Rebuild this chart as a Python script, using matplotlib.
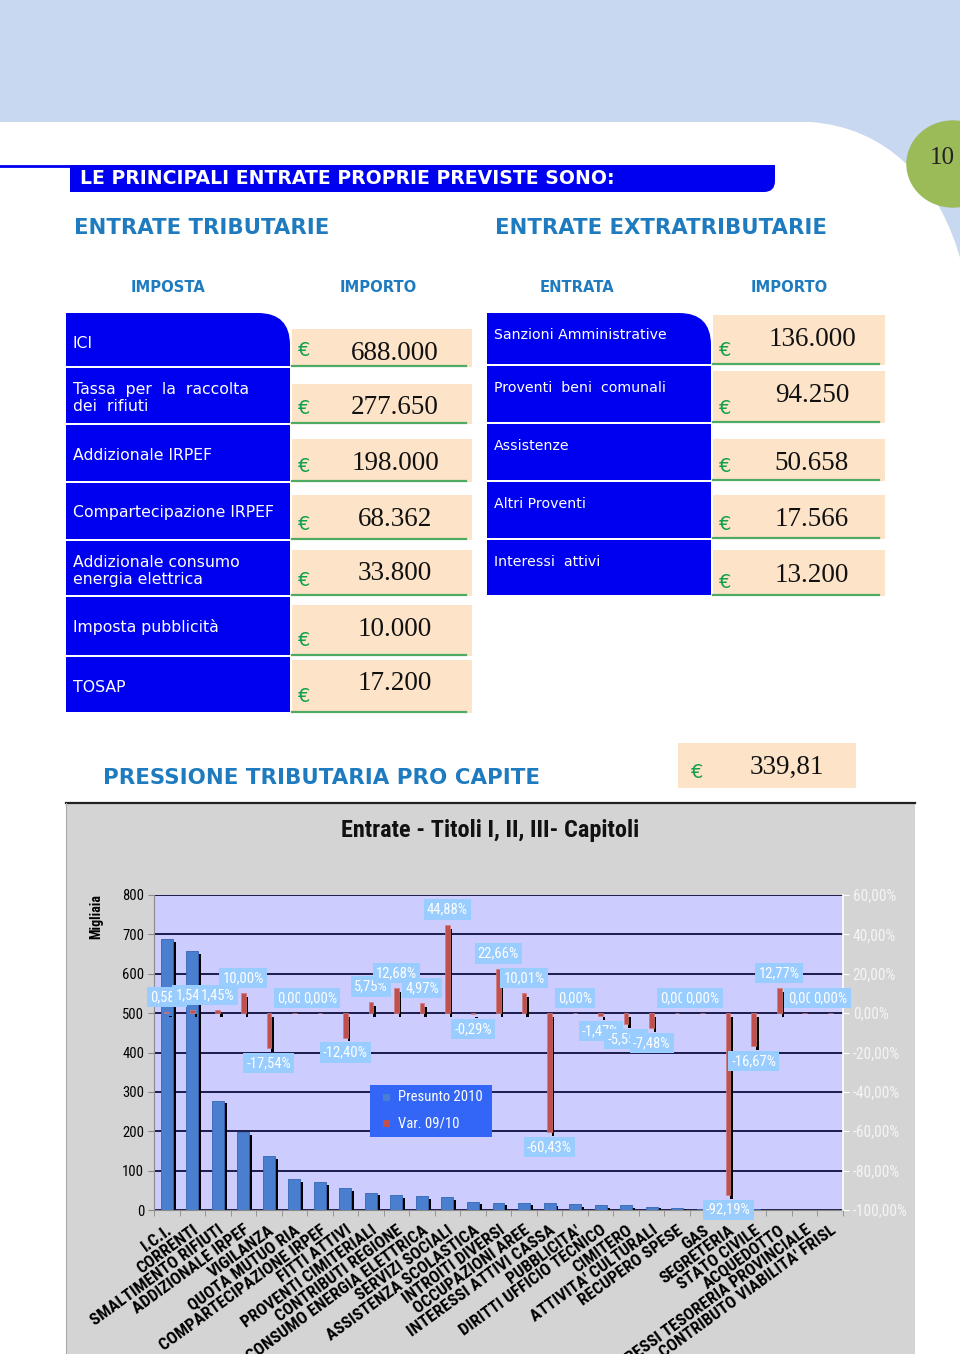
import matplotlib
matplotlib.use("Agg")
import matplotlib.pyplot as plt
from matplotlib.patches import Rectangle, Ellipse, PathPatch
from matplotlib.path import Path
from matplotlib.transforms import ScaledTranslation
from matplotlib import font_manager
import numpy as np

W, H = 960, 1354

# --- tables
imposte = ["ICI", "Tassa  per  la  raccolta\ndei  rifiuti", "Addizionale IRPEF",
           "Compartecipazione IRPEF", "Addizionale consumo\nenergia elettrica",
           "Imposta pubblicità", "TOSAP"]
importi_trib = ["688.000", "277.650", "198.000", "68.362", "33.800", "10.000", "17.200"]
entrate = ["Sanzioni Amministrative", "Proventi  beni  comunali", "Assistenze",
           "Altri Proventi", "Interessi  attivi"]
importi_extra = ["136.000", "94.250", "50.658", "17.566", "13.200"]
pro_capite = "339,81"

# --- chart (Presunto 2010 in migliaia, Var. 09/10 in %)
categorie = ["I.C.I.", "CORRENTI", "SMALTIMENTO RIFIUTI", "ADDIZIONALE IRPEF", "VIGILANZA",
             "QUOTA MUTUO RIA", "COMPARTECIPAZIONE IRPEF", "FITTI ATTIVI",
             "PROVENTI CIMITERIALI", "CONTRIBUTI REGIONE", "CONSUMO ENERGIA ELETTRICA",
             "SERVIZI SOCIALI", "ASSISTENZA SCOLASTICA", "INTROITI DIVERSI",
             "OCCUPAZIONI AREE", "INTERESSI ATTIVI CASSA", "PUBBLICITA'",
             "DIRITTI UFFICIO TECNICO", "CIMITERO", "ATTIVITA' CULTURALI", "RECUPERO SPESE",
             "GAS", "SEGRETERIA", "STATO CIVILE", "ACQUEDOTTO",
             "INTERESSI TESORERIA PROVINCIALE", "CONTRIBUTO VIABILITA' FRISL"]
presunto_2010 = [688, 657, 278, 198, 136, 78, 71, 56, 44, 38, 35, 33, 21, 19, 19, 17, 14,
                 12, 12, 8, 4, 3, 2, 2, 1, 0.5, 0.3]
var_09_10 = [0.58, 1.54, 1.45, 10.00, -17.54, 0.00, 0.00, -12.40, 5.75, 12.68, 4.97, 44.88,
             -0.29, 22.66, 10.01, -60.43, 0.00, -1.47, -5.55, -7.48, 0.00, 0.00, -92.19,
             -16.67, 12.77, 0.00, 0.00]

# narrow font for the excel chart if there is one
names = {f.name for f in font_manager.fontManager.ttflist}
narrow = None
for cand in ["Liberation Sans Narrow", "DejaVu Sans Condensed", "Roboto Condensed"]:
    if cand in names:
        narrow = cand
        break
if narrow is None:
    narrow = "Liberation Sans"
    k = 0.85
else:
    k = 1.0
NF = [narrow, 'DejaVu Sans']

plt.rcParams['font.family'] = ['DejaVu Sans']

BLUE = '#0000f0'
PEACH = '#fde4c9'
GREEN = '#4faa62'
HEAD = '#1e7bbf'

fig = plt.figure(figsize=(W/100, H/100), dpi=100)
bg = fig.add_axes([0, 0, 1, 1])
bg.set_xlim(0, W)
bg.set_ylim(H, 0)
bg.axis('off')

# page background with rounded white sheet
bg.add_patch(Rectangle((0, 0), W, H, color='#c8d8f0'))
verts = [(0, 122), (810, 122), (885, 127), (940, 180), (962, 265), (962, H), (0, H), (0, 122)]
codes = [Path.MOVETO, Path.LINETO, Path.CURVE4, Path.CURVE4, Path.CURVE4,
         Path.LINETO, Path.LINETO, Path.CLOSEPOLY]
bg.add_patch(PathPatch(Path(verts, codes), fc='white', ec='none'))
bg.add_patch(Ellipse((953, 164), 92, 86, color='#9bbb59'))
bg.text(942, 158, "10", family='Liberation Serif', fontsize=18, ha='center', va='center',
        color='#222222')

# banner
bverts = [(70, 165), (775, 165), (775, 181), (775, 192), (764, 192), (70, 192), (70, 165)]
bcodes = [Path.MOVETO, Path.LINETO, Path.LINETO, Path.CURVE3, Path.CURVE3, Path.LINETO,
          Path.CLOSEPOLY]
bg.add_patch(PathPatch(Path(bverts, bcodes), fc=BLUE, ec='none'))
bg.plot([0, 72], [166, 166], color=BLUE, lw=2)
bg.text(80, 178, "LE PRINCIPALI ENTRATE PROPRIE PREVISTE SONO:", color='white',
        fontweight='bold', fontsize=13.6, va='center')

bg.text(74, 228, "ENTRATE TRIBUTARIE", color=HEAD, fontweight='bold', fontsize=15.3, va='center')
bg.text(495, 228, "ENTRATE EXTRATRIBUTARIE", color=HEAD, fontweight='bold', fontsize=15.3,
        va='center')
for xh, t in [(168, "IMPOSTA"), (378, "IMPORTO"), (577, "ENTRATA"), (789, "IMPORTO")]:
    bg.text(xh, 287, t, color=HEAD, fontweight='bold', fontsize=10.6, ha='center', va='center')


def cell_path(x0, x1, y0, y1, r):
    v = [(x0, y0), (x1 - r, y0), (x1, y0), (x1, y0 + r), (x1, y1), (x0, y1), (x0, y0)]
    c = [Path.MOVETO, Path.LINETO, Path.CURVE3, Path.CURVE3, Path.LINETO, Path.LINETO,
         Path.CLOSEPOLY]
    return Path(v, c)


def tabella(x0, x1, x2, edges, tops, labels, values, lab_dy, lab_size, val_dy, euro_dy):
    for i in range(len(labels)):
        y0, y1 = edges[i], edges[i + 1]
        r = 32 if i == 0 else 0
        bg.add_patch(PathPatch(cell_path(x0, x1, y0 + 1, y1 - 1, r), fc=BLUE, ec='none'))
        bg.add_patch(Rectangle((x1 + 2, tops[i]), x2 - x1 - 2, y1 - tops[i], fc=PEACH, ec='none'))
        bg.plot([x1 + 2, x2 - 6], [y1 - 1, y1 - 1], color=GREEN, lw=1.6)
        bg.text(x0 + 7, y0 + lab_dy, labels[i], color='white', fontsize=lab_size, va='center',
                linespacing=1.2)
        bg.text(x1 + 14, y1 - euro_dy, "€", color='#12a050', fontsize=14, ha='center',
                va='center')
        bg.text((x1 + x2) / 2 + 14, tops[i] + val_dy, values[i], family='Liberation Serif',
                fontsize=19.5, ha='center', va='center', color='#111111')


tabella(66, 290, 472, [312, 367, 424, 482, 540, 596, 656, 713],
        [329, 384, 439, 495, 550, 605, 660], imposte, importi_trib, 31, 11.3, 24, 16)
tabella(487, 711, 885, [312, 365, 423, 481, 539, 596],
        [315, 371, 439, 495, 550], entrate, importi_extra, 23, 10.2, 25, 14)

bg.text(103, 778, "PRESSIONE TRIBUTARIA PRO CAPITE", color=HEAD, fontweight='bold',
        fontsize=15.4, va='center')
bg.add_patch(Rectangle((678, 743), 178, 45, fc=PEACH, ec='none'))
bg.text(697, 772, "€", color='#12a050', fontsize=14, ha='center', va='center')
bg.text(787, 767, pro_capite, family='Liberation Serif', fontsize=19.5, ha='center',
        va='center', color='#111111')

# chart frame
bg.add_patch(Rectangle((66, 803), 849, H - 803, fc='#d4d4d4', ec='none'))
bg.plot([66, 915], [802.5, 802.5], color='#222222', lw=1.6)
bg.plot([66, 66], [803, H], color='#aaaaaa', lw=0.8)
bg.text(490, 830, "Entrate - Titoli I, II, III- Capitoli", family=NF,
        fontweight='bold', fontsize=17.5 * k, ha='center', va='center', color='#111111')

ax = fig.add_axes([154 / W, 1 - 1210 / H, (843 - 154) / W, (1210 - 895) / H])
ax.set_facecolor('#ccccff')
n = len(categorie)
x = np.arange(n)
pv = np.array(presunto_2010, float)
vv = np.array(var_09_10, float)

ax.bar(x + 0.29, np.maximum(pv - 7, pv * 0.5), width=0.12, color='black', zorder=2)
ax.bar(x, pv, width=0.47, color='#4a7fcf', edgecolor='#3566b5', lw=0.6, zorder=3)
ax.set_xlim(-0.5, n - 0.5)
ax.set_ylim(0, 800)
ax.set_yticks(range(0, 801, 100))
ax.grid(axis='y', color='#1c1c4c', lw=1.4)
ax.set_axisbelow(True)
for s in ['top', 'right']:
    ax.spines[s].set_visible(False)
for s in ['left', 'bottom']:
    ax.spines[s].set_color('#8a8a8a')
ax.tick_params(axis='y', length=4, color='#8a8a8a', labelsize=10.5 * k, pad=3)
for lab in ax.get_yticklabels():
    lab.set_family(NF)
ax.set_xticks(x)
ax.set_xticklabels(categorie, rotation=36, ha='right', rotation_mode='anchor',
                   fontweight='bold', fontsize=12.3 * k, family=NF)
shift = ScaledTranslation(6 / 100, 0, fig.dpi_scale_trans)
for lab in ax.get_xticklabels():
    lab.set_transform(lab.get_transform() + shift)
ax.set_xticks(np.arange(-0.5, n, 1), minor=True)
ax.tick_params(axis='x', which='major', length=0, pad=9)
ax.tick_params(axis='x', which='minor', length=4, color='#8a8a8a')
ax.set_ylabel("Migliaia", fontweight='bold', fontsize=10 * k, family=NF)
ax.yaxis.set_label_coords(-0.074, 0.93)

ax2 = ax.twinx()
ax2.set_ylim(-100, 60)
ax2.bar(x + 0.14, vv, width=0.1, bottom=-2, color='black', zorder=2)
ax2.bar(x, vv, width=0.18, color='#c0504d', edgecolor='#d47a78', lw=0.5, zorder=3)
ax2.set_yticks(range(-100, 61, 20))
ax2.set_yticklabels([f"{t},00%" for t in range(-100, 61, 20)], color='#f4f4f4',
                    fontsize=11.2 * k, family=NF)
ax2.tick_params(axis='y', length=4, color='white', pad=3)
for s in ['top', 'left', 'bottom']:
    ax2.spines[s].set_visible(False)
ax2.spines['right'].set_color('white')
ax2.spines['right'].set_linewidth(1.2)

for i, v in enumerate(vv):
    yy = v + 7.7 if v >= 0 else v - 7.7
    ax2.text(i, yy, f"{v:.2f}%".replace('.', ','), ha='center', va='center', color='white',
             fontsize=10.5 * k, family=NF, zorder=6,
             bbox=dict(boxstyle='square,pad=0.22', fc='#99ccff', ec='none'))

# legend
fg = fig.add_axes([0, 0, 1, 1], zorder=5)
fg.set_xlim(0, W)
fg.set_ylim(H, 0)
fg.axis('off')
fg.add_patch(Rectangle((370, 1085), 122, 52, fc='#3366f6', ec='none'))
fg.add_patch(Rectangle((383, 1094), 7, 7, fc='#4a7fcf', ec='none'))
fg.add_patch(Rectangle((383, 1120), 7, 7, fc='#c0504d', ec='none'))
fg.text(398, 1097, "Presunto 2010", color='white', fontsize=10.5 * k, family=NF, va='center')
fg.text(398, 1123, "Var. 09/10", color='white', fontsize=10.5 * k, family=NF, va='center')

fig.savefig("out.png", dpi=100)
